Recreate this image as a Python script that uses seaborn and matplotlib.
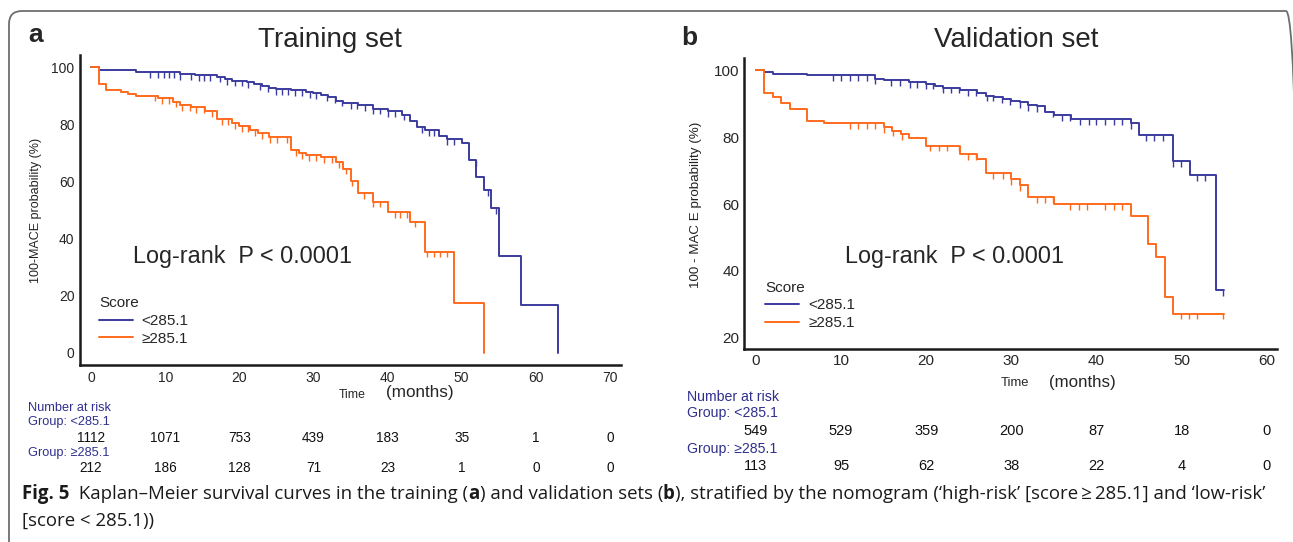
import numpy as np
import pandas as pd
import matplotlib
matplotlib.use("Agg")
import matplotlib.pyplot as plt
import matplotlib.transforms as mtransforms
from matplotlib.patches import FancyBboxPatch
import seaborn as sns

# ---------------- data ----------------
groups = ["<285.1", "\u2265285.1"]
colors = {"<285.1": "#3b3b9f", "\u2265285.1": "#ff6a1c"}

# training set, score < 285.1
train_low_t = [0, 1, 6, 12, 14, 17, 18, 19, 21, 22, 23, 24, 25, 27, 29, 30, 31, 32, 33, 34,
               36, 38, 40, 42, 43, 44, 45, 47, 48, 50, 51, 52, 53, 54, 55, 58, 63]
train_low_s = [100, 99.1, 98.3, 97.6, 97.2, 96.6, 95.8, 95.2, 94.6, 94.0, 93.4, 92.8, 92.2, 91.8,
               91.2, 90.8, 90.2, 89.4, 88.2, 87.3, 86.6, 85.4, 84.6, 83.3, 81.0, 78.9, 78.0,
               75.8, 74.8, 73.3, 67.4, 61.7, 57.0, 50.6, 33.8, 16.8, 0]
train_low_cens = [8, 9, 9.8, 10.5, 11.2, 12, 13.5, 14.5, 15.2, 16.1, 17.4, 18.3, 19.4, 20.3, 21.2,
                  22.8, 23.9, 25, 25.8, 26.6, 27.5, 28.4, 29.6, 30.3, 31.8, 32.9, 33.8, 35.0,
                  35.9, 37.0, 38.1, 39.0, 40.1, 41.0, 42.2, 44.6, 45.6, 46.2, 48.0, 48.9, 51.9,
                  53.6, 54.6]

# training set, score >= 285.1
train_high_t = [0, 1, 2, 4, 5, 6, 9, 11, 12, 13.5, 15.4, 17, 19, 20, 21.4, 22.5, 24, 27, 28, 29,
                31, 33, 34, 35, 36, 38, 40, 43, 45, 49, 53]
train_high_s = [100, 93.9, 91.9, 91.4, 90.6, 90.0, 89.0, 87.9, 86.7, 85.9, 84.6, 81.8, 80.3, 79.3,
                77.9, 77.0, 75.6, 70.9, 70.0, 69.2, 68.6, 66.8, 64.5, 60.3, 56.0, 52.9, 49.2,
                45.9, 35.4, 17.4, 0]
train_high_cens = [8.6, 9.5, 10.5, 11.4, 12.3, 13.4, 14.1, 15.2, 16.3, 17.7, 18.5, 19.4, 20.3,
                   21.2, 22.1, 23.1, 24.2, 25.1, 26.4, 27.6, 28.5, 29.4, 30.3, 31.4, 32.5, 33.5,
                   34.4, 35.2, 36.8, 38.1, 39.0, 41.0, 41.7, 42.6, 43.7, 45.3, 46.2, 47.1, 48.0]

# validation set, score < 285.1
valid_low_t = [0, 1, 2, 6, 14, 15, 18, 20, 21, 22, 24, 26, 27, 28, 29, 30, 31, 32, 33, 34, 35,
               37, 44, 45, 49, 51, 54, 55]
valid_low_s = [100, 99.4, 98.9, 98.4, 97.4, 96.9, 96.4, 95.9, 95.2, 94.7, 94.1, 93.1, 92.4, 91.9,
               91.4, 90.9, 90.4, 89.6, 89.2, 87.6, 86.6, 85.4, 84.1, 80.6, 72.8, 68.7, 34.2, 34.2]
valid_low_cens = [9.1, 10, 11, 12, 13, 14, 15.9, 16.9, 18.1, 18.9, 20, 20.8, 22, 22.9, 23.9,
                  24.9, 25.9, 27.1, 27.9, 28.9, 29.8, 31, 32, 33, 34.9, 35.9, 36.9, 38.1, 39.1,
                  40, 41, 42, 43, 44, 45.8, 46.8, 47.8, 49, 49.9, 51.8, 52.8, 54.9]

# validation set, score >= 285.1
valid_high_t = [0, 1, 2, 3, 4, 6, 8, 15, 16, 17, 18, 20, 24, 26, 27, 30, 31, 32, 35, 44, 46, 47,
                48, 49, 55]
valid_high_s = [100, 93.0, 91.9, 90.3, 88.4, 84.9, 84.1, 82.9, 81.9, 80.8, 79.7, 77.4, 74.9,
                73.4, 69.2, 67.5, 65.7, 62.1, 59.9, 56.3, 48.1, 44.1, 32.1, 27.3, 27.3]
valid_high_cens = [11, 12, 13, 14, 15, 16.1, 17.1, 20.5, 21.5, 22.4, 23.9, 24.9, 25.9, 27.9,
                   29, 30, 31, 33, 33.9, 34.9, 36.9, 38, 38.9, 41, 42, 43, 49.9, 50.9, 51.8, 54.9]

# number at risk
train_risk_times = [0, 10, 20, 30, 40, 50, 60, 70]
train_risk_low = [1112, 1071, 753, 439, 183, 35, 1, 0]
train_risk_high = [212, 186, 128, 71, 23, 1, 0, 0]
valid_risk_times = [0, 10, 20, 30, 40, 50, 60]
valid_risk_low = [549, 529, 359, 200, 87, 18, 0]
valid_risk_high = [113, 95, 62, 38, 22, 4, 0]

W, H = 1293, 542
SANS = ["Liberation Sans", "DejaVu Sans"]
NARROW = ["Liberation Sans Narrow", "Liberation Sans", "DejaVu Sans"]
TABLE_BLUE = "#2f2f8f"


def fx(px):
    return px / W


def fy(py):
    return 1 - py / H


def step_at(times, surv, when):
    idx = np.searchsorted(np.asarray(times, float), np.asarray(when, float), side="right") - 1
    return np.asarray(surv, float)[idx]


def km_panel(ax, low, high, cens_low, cens_high, tick_drop):
    df = pd.concat([
        pd.DataFrame({"Time": low[0], "Survival": low[1], "Score": groups[0]}),
        pd.DataFrame({"Time": high[0], "Survival": high[1], "Score": groups[1]}),
    ])
    sns.lineplot(data=df, x="Time", y="Survival", hue="Score", palette=colors,
                 drawstyle="steps-post", estimator=None, errorbar=None, sort=False,
                 linewidth=1.4, ax=ax)
    # censoring marks hang below the curve
    for (t, s), cens, g in [(low, cens_low, groups[0]), (high, cens_high, groups[1])]:
        v = step_at(t, s, cens)
        ax.vlines(cens, v - tick_drop, v, color=colors[g], linewidth=1.0)
    for side in ["top", "right"]:
        ax.spines[side].set_visible(False)
    for side in ["left", "bottom"]:
        ax.spines[side].set_linewidth(1.8)
        ax.spines[side].set_color("#1a1a1a")
    ax.tick_params(which="major", direction="in", length=6, width=1.2, color="#333333")
    ax.tick_params(which="minor", direction="in", length=3, width=1.0, color="#333333")
    ax.set_xlabel("")
    ax.set_ylabel("")


sns.set_theme(style="white")
plt.rcParams["font.family"] = SANS

fig = plt.figure(figsize=(W / 100, H / 100), dpi=100)

# ---------------- panel a ----------------
ax1 = fig.add_axes([fx(80), fy(365), fx(621 - 80), (365 - 55) / H])
km_panel(ax1, (train_low_t, train_low_s), (train_high_t, train_high_s),
         train_low_cens, train_high_cens, 2.0)
ax1.set_xlim(-1.5, 71.5)
ax1.set_ylim(-4.2, 104.2)
ax1.set_xticks(range(0, 71, 10))
ax1.set_xticks(range(5, 70, 10), minor=True)
ax1.set_yticks(range(0, 101, 20))
ax1.set_yticks(range(10, 100, 20), minor=True)
ax1.tick_params(labelsize=9, pad=4)
for lab in ax1.get_xticklabels() + ax1.get_yticklabels():
    lab.set_family(NARROW)
    lab.set_fontsize(10)
sns.move_legend(ax1, "upper left", bbox_to_anchor=(0.035, 0.222), frameon=False,
                title="Score", fontsize=11, title_fontsize=11, handlelength=2.2,
                handletextpad=0.6, labelspacing=0.25, borderpad=0, borderaxespad=0)
ax1.get_legend()._legend_box.align = "left"

# ---------------- panel b ----------------
ax2 = fig.add_axes([fx(744), fy(349), fx(1277 - 744), (349 - 58) / H])
km_panel(ax2, (valid_low_t, valid_low_s), (valid_high_t, valid_high_s),
         valid_low_cens, valid_high_cens, 1.7)
ax2.set_xlim(-1.4, 61.2)
ax2.set_ylim(16.7, 103.6)
ax2.set_xticks(range(0, 61, 10))
ax2.set_yticks(range(20, 101, 20))
ax2.set_yticks(range(30, 100, 20), minor=True)
ax2.tick_params(which="major", axis="x", length=8)
for lab in ax2.get_xticklabels() + ax2.get_yticklabels():
    lab.set_family(NARROW)
    lab.set_fontsize(11)
sns.move_legend(ax2, "upper left", bbox_to_anchor=(0.04, 0.235), frameon=False,
                title="Score", fontsize=11, title_fontsize=11, handlelength=2.2,
                handletextpad=0.6, labelspacing=0.25, borderpad=0, borderaxespad=0)
ax2.get_legend()._legend_box.align = "left"

# ---------------- titles, labels, annotations ----------------
fig.text(fx(36), fy(35), "a", fontsize=19, fontweight="bold", ha="center", va="center")
fig.text(fx(689), fy(38), "b", fontsize=19, fontweight="bold", ha="center", va="center")
fig.text(fx(330), fy(40), "Training set", fontsize=20, ha="center", va="center")
fig.text(fx(1016), fy(40), "Validation set", fontsize=20, ha="center", va="center")
fig.text(fx(133), fy(257), "Log-rank  P < 0.0001", fontsize=16.8, ha="left", va="center")
fig.text(fx(845), fy(257), "Log-rank  P < 0.0001", fontsize=16.8, ha="left", va="center")

fig.text(fx(36), fy(210), "100-MACE probability (%)", fontsize=9, rotation=90,
         ha="center", va="center", color="#222222")
fig.text(fx(696), fy(205), "100 - MAC E probability (%)", fontsize=9.6, rotation=90,
         ha="center", va="center", color="#222222")

fig.text(fx(352), fy(395), "Time", fontsize=8.8, ha="center", va="center")
fig.text(fx(420), fy(393), "(months)", fontsize=12.3, ha="center", va="center")
fig.text(fx(1015), fy(383), "Time", fontsize=9.4, ha="center", va="center")
fig.text(fx(1082), fy(382), "(months)", fontsize=12.2, ha="center", va="center")


# ---------------- number at risk tables ----------------
def risk_table(ax, left_px, rows_px, times, low, high, fs_label, fs_num):
    blend = mtransforms.blended_transform_factory(ax.transData, fig.transFigure)
    fig.text(fx(left_px), fy(rows_px[0]), "Number at risk", color=TABLE_BLUE,
             fontsize=fs_label, va="center")
    fig.text(fx(left_px), fy(rows_px[1]), "Group: " + groups[0], color=TABLE_BLUE,
             fontsize=fs_label, va="center")
    fig.text(fx(left_px), fy(rows_px[3]), "Group: " + groups[1], color=TABLE_BLUE,
             fontsize=fs_label, va="center")
    for t, n1, n2 in zip(times, low, high):
        ax.text(t, fy(rows_px[2]), str(n1), transform=blend, ha="center", va="center",
                fontsize=fs_num, family=NARROW, color="#111111")
        ax.text(t, fy(rows_px[4]), str(n2), transform=blend, ha="center", va="center",
                fontsize=fs_num, family=NARROW, color="#111111")


risk_table(ax1, 28, [408, 422, 438, 453, 468], train_risk_times, train_risk_low,
           train_risk_high, 9.2, 9.8)
risk_table(ax2, 687, [397, 413, 431, 449, 466], valid_risk_times, valid_risk_low,
           valid_risk_high, 10.2, 10.5)

# ---------------- caption ----------------
CAP = ["Open Sans", "DejaVu Sans"]
renderer = fig.canvas.get_renderer()


def rich_line(x_px, y_px, parts, size):
    x = x_px
    for s, weight in parts:
        t = fig.text(fx(x), fy(y_px), s, fontsize=size, fontweight=weight, family=CAP,
                     ha="left", va="center", color="#1a1a1a")
        x += t.get_window_extent(renderer).width


rich_line(22, 494, [("Fig. 5", "bold"),
                    ("  Kaplan\u2013Meier survival curves in the training (", "normal"),
                    ("a", "bold"), (") and validation sets (", "normal"), ("b", "bold"),
                    ("), stratified by the nomogram (\u2018high-risk\u2019 [score\u2009\u2265\u2009285.1] "
                     "and \u2018low-risk\u2019", "normal")], 13.4)
rich_line(22, 521, [("[score < 285.1))", "normal")], 13.4)

# rounded frame around the whole figure panel
frame = FancyBboxPatch((9, -40), 1290, H - 11 + 40, boxstyle="round,pad=0,rounding_size=13",
                       transform=None, fill=False, edgecolor="#6e6e6e", linewidth=1.3)
fig.patches.append(frame)

fig.savefig("out.png", dpi=100)
